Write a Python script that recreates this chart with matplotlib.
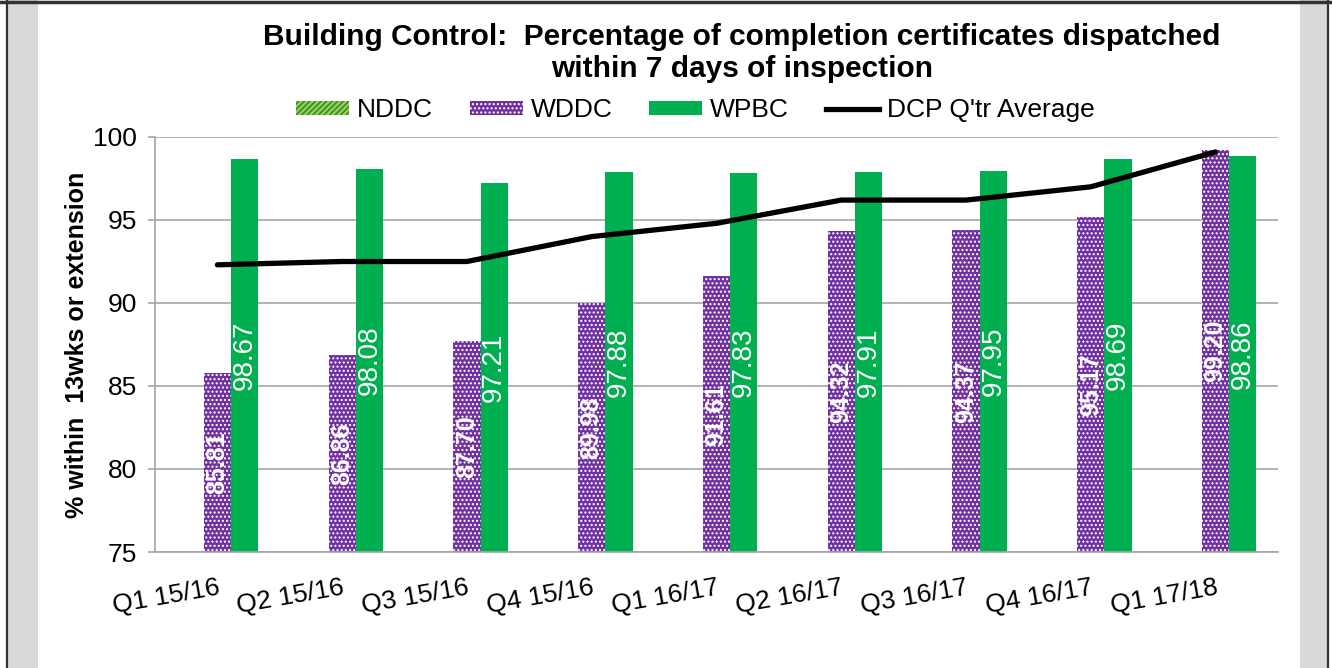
"""Building Control chart: completion certificates dispatched within 7 days.

Clustered bars per quarter (NDDC, WDDC, WPBC) with the DCP quarterly average
drawn as a line on top. Saved headless to out.png.
"""

import matplotlib
matplotlib.use("Agg")
import matplotlib.pyplot as plt  # noqa: E402
import numpy as np  # noqa: E402
from matplotlib.lines import Line2D  # noqa: E402
from matplotlib.patches import Patch, Rectangle  # noqa: E402

plt.rcParams["font.family"] = ["Liberation Sans", "DejaVu Sans"]

# Data
quarters = ["Q1 15/16", "Q2 15/16", "Q3 15/16", "Q4 15/16", "Q1 16/17",
            "Q2 16/17", "Q3 16/17", "Q4 16/17", "Q1 17/18"]
nddc = [np.nan] * 9  # no NDDC figures shown, slot kept empty
wddc = [85.81, 86.86, 87.70, 89.98, 91.61, 94.32, 94.37, 95.17, 99.20]
wpbc = [98.67, 98.08, 97.21, 97.88, 97.83, 97.91, 97.95, 98.69, 98.86]
dcp_avg = [92.3, 92.5, 92.5, 94.0, 94.8, 96.2, 96.2, 97.0, 99.1]
y_ticks = [75, 80, 85, 90, 95, 100]

# Colours
GREEN = "#00B050"
PURPLE = "#7030A0"
LIME = "#92D050"
GRID = "#A6A6A6"

W, H = 1332, 668
fig = plt.figure(figsize=(W / 100, H / 100), dpi=100)
fig.patch.set_facecolor("white")

# Page furniture around the chart: gray side strips and dark border
for x0, x1 in ((8, 38), (1300, 1327)):
    fig.add_artist(Rectangle((x0 / W, 0), (x1 - x0) / W, 1, transform=fig.transFigure,
                             facecolor="#D9D9D9", edgecolor="none"))
for xb in (7, 1328):
    fig.add_artist(Line2D([xb / W, xb / W], [0, 1], transform=fig.transFigure,
                          color="#333333", lw=1.6))
fig.add_artist(Line2D([0, 1], [1 - 1.5 / H, 1 - 1.5 / H], transform=fig.transFigure,
                      color="#333333", lw=2.5))

ax = fig.add_axes([155 / W, 1 - 552 / H, (1278 - 155) / W, (552 - 137) / H])

x = np.arange(len(quarters))
bw = 0.218
base = y_ticks[0]

ax.bar(x - bw, np.array(nddc) - base, bw, bottom=base, color=LIME,
       hatch="//////", edgecolor="#2E7D32", linewidth=0)
ax.bar(x, np.array(wddc) - base, bw, bottom=base, color=PURPLE,
       hatch="....", edgecolor="white", linewidth=0, zorder=2)
ax.bar(x + bw, np.array(wpbc) - base, bw, bottom=base, color=GREEN,
       linewidth=0, zorder=2)
ax.plot(x, dcp_avg, color="black", lw=3.8, zorder=4, solid_capstyle="round")

# value labels sit in the middle of each bar, rotated
for xi, v in zip(x, wddc):
    ax.text(xi, (base + v) / 2, f"{v:.2f}", rotation=90, ha="center", va="center",
            color="white", fontsize=18, fontweight="bold", zorder=3)
for xi, v in zip(x, wpbc):
    ax.text(xi + bw, (base + v) / 2, f"{v:.2f}", rotation=90, ha="center", va="center",
            color="white", fontsize=20, zorder=3)

ax.set_xlim(-0.5, len(quarters) - 0.5)
ax.set_ylim(75, 100)
ax.set_yticks(y_ticks)
ax.yaxis.grid(True, color=GRID, lw=1.2)
ax.set_axisbelow(True)
for side in ("top", "right"):
    ax.spines[side].set_visible(False)
for side in ("left", "bottom"):
    ax.spines[side].set_color(GRID)
    ax.spines[side].set_linewidth(1.2)
ax.tick_params(axis="y", length=5, color=GRID, width=1.2, labelsize=19, pad=8)
ax.tick_params(axis="x", length=0, pad=17)
ax.set_xticks(x)
ax.set_xticklabels(quarters, fontsize=19, rotation=10, ha="right",
                   rotation_mode="anchor")
ax.set_ylabel("% within  13wks or extension", fontsize=18, fontweight="bold", labelpad=3)

fig.text(0.557, 1 - 53 / H, "Building Control:  Percentage of completion certificates dispatched\n"
         "within 7 days of inspection", ha="center", va="center", fontsize=21.5,
         fontweight="bold", linespacing=1.2)

handles = [
    Patch(facecolor=LIME, hatch="//////", edgecolor="#2E7D32", linewidth=0, label="NDDC"),
    Patch(facecolor=PURPLE, hatch="....", edgecolor="white", linewidth=0, label="WDDC"),
    Patch(facecolor=GREEN, linewidth=0, label="WPBC"),
    Line2D([], [], color="black", lw=3.8, label="DCP Q'tr Average"),
]
fig.legend(handles=handles, loc="center", bbox_to_anchor=(0.522, 1 - 110 / H), ncol=4,
           frameon=False, fontsize=19, handlelength=2.0, handleheight=0.45,
           handletextpad=0.3, columnspacing=1.4)

fig.savefig("out.png", dpi=100)
plt.close(fig)
